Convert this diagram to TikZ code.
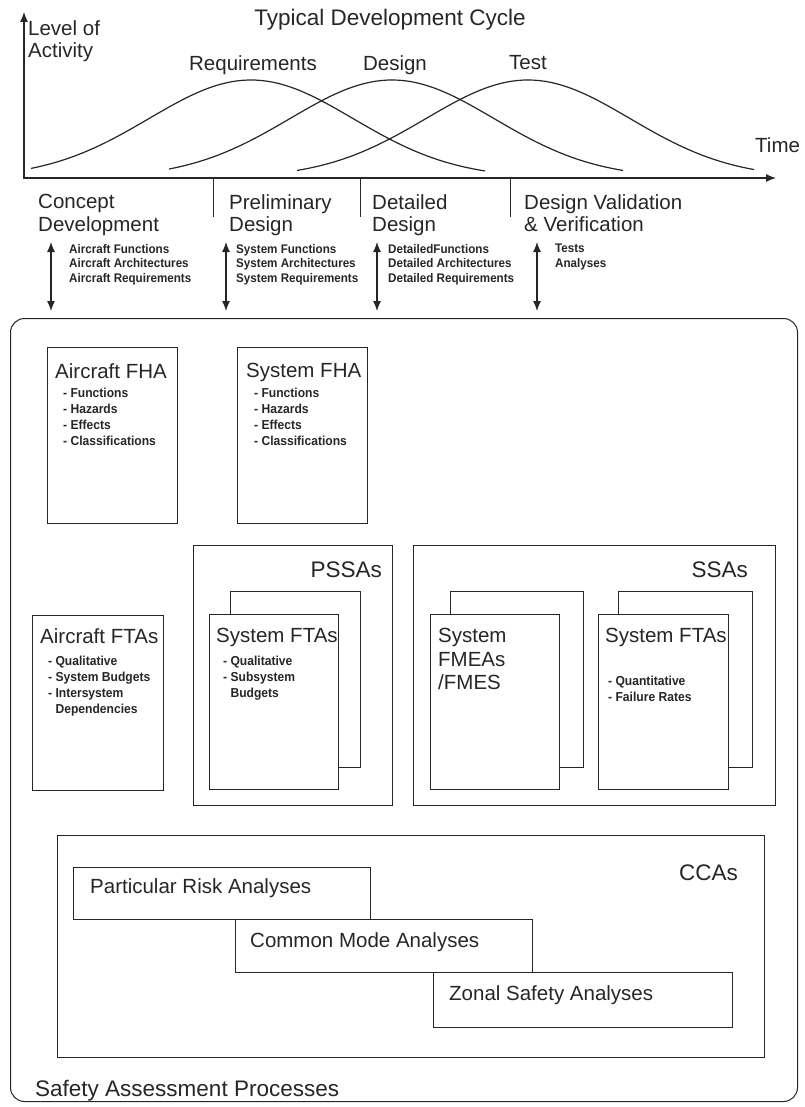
\documentclass[tikz,border=0pt]{standalone}
\usepackage{fontspec}
\setmainfont{Liberation Sans}
\newfontfamily\narrowbold[FakeStretch=0.93]{Liberation Sans Bold}
\usetikzlibrary{arrows.meta}

\begin{document}
\begin{tikzpicture}[x=1pt,y=-1pt,color=black!85]
	\tikzset{box/.style = {shape=rectangle,draw,line width=1pt,inner sep=0pt,anchor=north west}}
	\tikzset{page/.style = {box,fill=white}}
	\tikzset{txt/.style = {anchor=north west,inner sep=0pt,align=left}}
	\tikzset{big/.style = {txt,font=\fontsize{20.5}{22.5}\selectfont}}
	\tikzset{huge/.style = {txt,font=\fontsize{22.5}{24}\selectfont}}
	\tikzset{small/.style = {txt,font=\narrowbold\fontsize{12.5}{14.5}\selectfont}}
	\tikzset{item/.style = {txt,font=\narrowbold\fontsize{13}{16}\selectfont}}
	\tikzset{edge/.style = {<->,line width=1.2pt,> = {Latex[length=10pt,width=8pt]}}}
	\tikzset{curve/.style = {line width=1.2pt,samples=80}}
	\useasboundingbox (0,0) rectangle (804,1107);
	% development cycle
	\node[huge,anchor=north] (title) at (390,9) {Typical Development Cycle};
	\coordinate (o) at (24,178);
	\coordinate (ytip) at (24,12);
	\coordinate (xtip) at (776,178);
	\draw[edge] (ytip) -- (o) -- (xtip);
	\node[big] (lvl) at (28,20) {Level of\\Activity};
	\node[big] (time) at (755,137) {Time};
	\draw[curve] plot[domain=31:485] (\x,{178-98*exp(-((\x-251)/102)^2/2)});
	\draw[curve] plot[domain=169:623] (\x,{178-98*exp(-((\x-392)/102)^2/2)});
	\draw[curve] plot[domain=297:754] (\x,{178-98*exp(-((\x-528)/102)^2/2)});
	\node[big,anchor=north] (req) at (253,55) {Requirements};
	\node[big,anchor=north] (des) at (395,55) {Design};
	\node[big,anchor=north] (tst) at (528,55) {Test};
	\foreach \d in {213,360,510}
		\draw[line width=1pt] (\d,178) -- (\d,217);
	% phases
	\node[big] (p1) at (38,194) {Concept\\Development};
	\node[big] (p2) at (229,194) {Preliminary\\Design};
	\node[big] (p3) at (372,194) {Detailed\\Design};
	\node[big] (p4) at (524,194) {Design Validation\\\& Verification};
	\node[small] (s1) at (69,244) {Aircraft Functions\\Aircraft Architectures\\Aircraft Requirements};
	\node[small] (s2) at (236,244) {System Functions\\System Architectures\\System Requirements};
	\node[small] (s3) at (388,244) {DetailedFunctions\\Detailed Architectures\\Detailed Requirements};
	\node[small] (s4) at (555,244) {Tests\\Analyses};
	\coordinate (a1t) at (51,242);  \coordinate (a1b) at (51,311);
	\coordinate (a2t) at (226,242); \coordinate (a2b) at (226,311);
	\coordinate (a3t) at (377,242); \coordinate (a3b) at (377,311);
	\coordinate (a4t) at (537,242); \coordinate (a4b) at (537,311);
	\draw[edge] (a1t) -- (a1b);
	\draw[edge] (a2t) -- (a2b);
	\draw[edge] (a3t) -- (a3b);
	\draw[edge] (a4t) -- (a4b);
	% safety assessment
	\node[box,rounded corners=14pt,minimum width=787,minimum height=783] (sap) at (10,318) {};
	\node[box,minimum width=130,minimum height=176] (afha) at (47,347) {};
	\node[big] at (55,363) {Aircraft FHA};
	\node[item] at (63,388) {- Functions\\- Hazards\\- Effects\\- Classifications};
	\node[box,minimum width=130,minimum height=176] (sfha) at (237,347) {};
	\node[big] at (246,363) {System FHA};
	\node[item] at (254,388) {- Functions\\- Hazards\\- Effects\\- Classifications};
	\node[box,minimum width=131,minimum height=175] (afta) at (32,615) {};
	\node[big] at (40,628) {Aircraft FTAs};
	\node[item] at (48,656) {- Qualitative\\- System Budgets\\- Intersystem\\\phantom{- }Dependencies};
	% PSSAs
	\node[box,minimum width=199,minimum height=260] (pssa) at (193,545) {};
	\node[huge,anchor=north east] at (382,562) {PSSAs};
	\node[page,minimum width=130,minimum height=176] (pftb) at (230,591) {};
	\node[page,minimum width=129,minimum height=175] (pft) at (209,614) {};
	\node[big] at (216,628) {System FTAs};
	\node[item] at (223,656) {- Qualitative\\- Subsystem\\\phantom{- }Budgets};
	% SSAs
	\node[box,minimum width=362,minimum height=260] (ssa) at (413,545) {};
	\node[huge,anchor=north east] at (748,562) {SSAs};
	\node[page,minimum width=133,minimum height=176] (fmb) at (450,591) {};
	\node[page,minimum width=129,minimum height=175] (fm) at (430,614) {};
	\node[txt,font=\fontsize{20.5}{23.5}\selectfont] at (438,628) {System\\FMEAs\\/FMES};
	\node[page,minimum width=134,minimum height=176] (sftb) at (618,591) {};
	\node[page,minimum width=130,minimum height=175] (sft) at (598,614) {};
	\node[big] at (605,628) {System FTAs};
	\node[item] at (608,676) {- Quantitative\\- Failure Rates};
	% CCAs
	\node[box,minimum width=707,minimum height=222] (cca) at (57,835) {};
	\node[huge,anchor=north east] at (738,865) {CCAs};
	\node[box,minimum width=297,minimum height=52] (pra) at (73,867) {};
	\node[big] at (90,878) {Particular Risk Analyses};
	\node[box,minimum width=297,minimum height=53] (cma) at (235,919) {};
	\node[big] at (250,932) {Common Mode Analyses};
	\node[box,minimum width=299,minimum height=55] (zsa) at (433,972) {};
	\node[big] at (449,985) {Zonal Safety Analyses};
	\node[huge] at (35,1080) {Safety Assessment Processes};
\end{tikzpicture}
\end{document}
